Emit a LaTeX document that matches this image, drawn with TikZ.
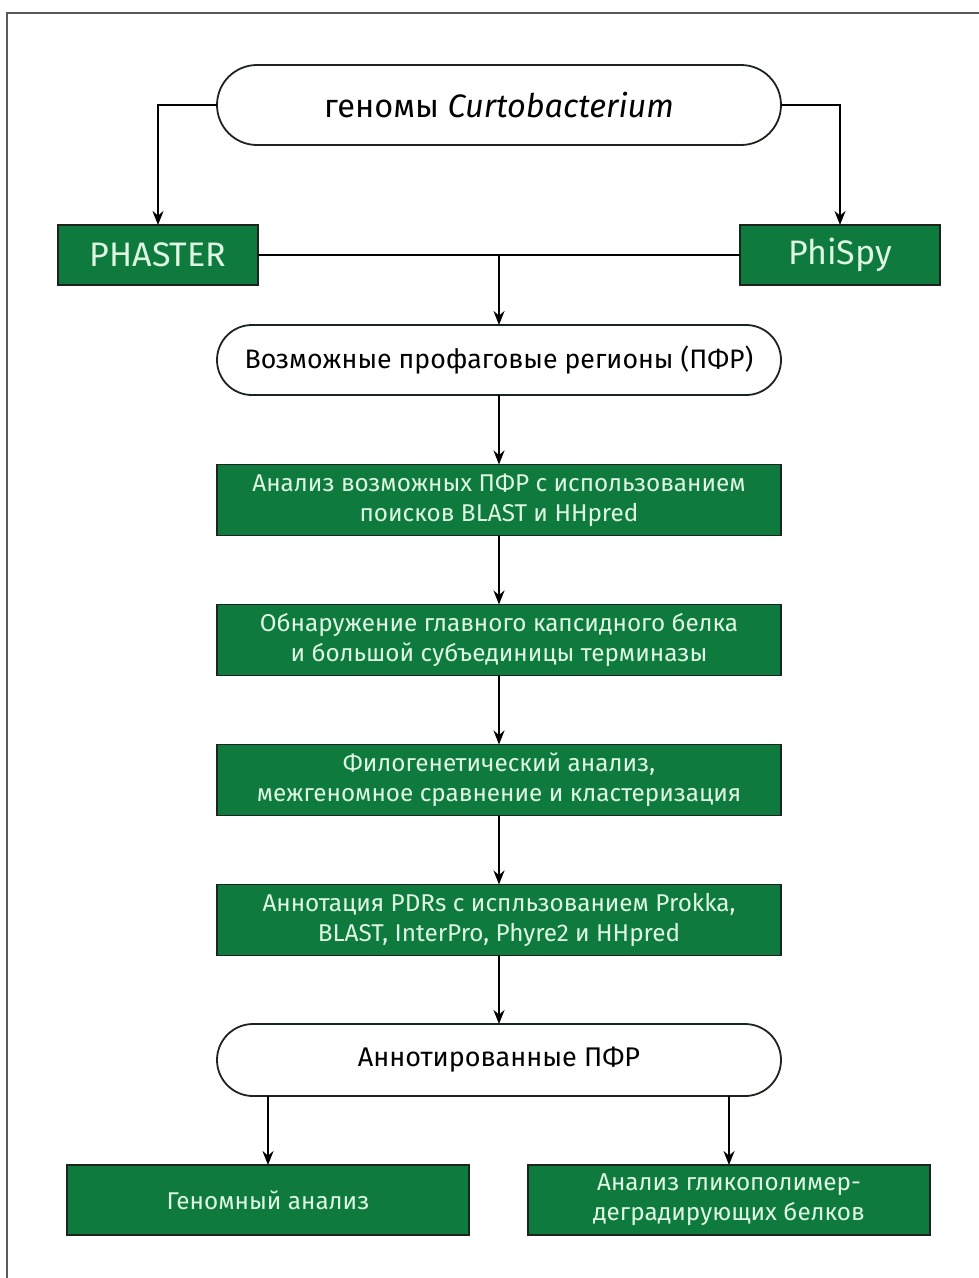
\documentclass[tikz,border=0pt]{standalone}
\usepackage{fontspec}
\setmainfont{Fira Sans}
\usetikzlibrary{arrows.meta}
\definecolor{boxgreen}{HTML}{0E7A3D}
\definecolor{boxtext}{HTML}{DDF7E2}
\definecolor{edge}{HTML}{1C241E}
\definecolor{framegray}{HTML}{5A5A5A}
\tikzset{
  every node/.style={inner sep=0pt, outer sep=0pt},
  term/.style={draw=edge, line width=1.8pt, fill=white, rounded corners=35pt,
    minimum width=564pt, minimum height=72pt, align=center, text=black},
  gbox/.style={draw=edge, line width=1.8pt, fill=boxgreen, text=boxtext,
    minimum height=71pt, align=center, font=\fontsize{24.3}{30}\selectfont},
  flow/.style={draw=black, line width=1.8pt, -{Stealth[length=14pt,width=11pt]}},
  plain/.style={draw=black, line width=1.8pt}
}
\begin{document}
\begin{tikzpicture}[x=1pt,y=-1pt]
  % page extent
  \useasboundingbox (0,0) rectangle (979,1278);
  \draw[framegray, line width=1.4pt] (7,13) rectangle (995,1295);

  % start and tool boxes
  \node[term, minimum height=80pt, rounded corners=40pt,
        font=\fontsize{32.5}{36}\selectfont] (t1) at (499,105)
        {геномы \textit{Curtobacterium}};
  \node[gbox, minimum width=200pt, minimum height=60pt,
        font=\fontsize{34}{38}\selectfont] (phaster) at (158,255) {PHASTER};
  \node[gbox, minimum width=200pt, minimum height=60pt,
        font=\fontsize{34}{38}\selectfont] (phispy) at (840,255) {PhiSpy};

  % main pipeline
  \node[term, minimum height=70pt, font=\fontsize{26.7}{30}\selectfont] (t2) at (499,360)
        {Возможные профаговые регионы (ПФР)};
  \node[gbox, minimum width=564pt] (b1) at (499,500)
        {Анализ возможных ПФР с использованием\\поисков BLAST и HHpred};
  \node[gbox, minimum width=564pt] (b2) at (499,640)
        {Обнаружение главного капсидного белка\\и большой субъединицы терминазы};
  \node[gbox, minimum width=564pt] (b3) at (499,780)
        {Филогенетический анализ,\\межгеномное сравнение и кластеризация};
  \node[gbox, minimum width=564pt] (b4) at (499,920)
        {Аннотация PDRs с испльзованием Prokka,\\BLAST, InterPro, Phyre2 и HHpred};
  \node[term, minimum height=72pt, rounded corners=36pt,
        font=\fontsize{27}{30}\selectfont] (t3) at (499,1060)
        {Аннотированные ПФР};

  % outputs
  \node[gbox, minimum width=402pt, minimum height=70pt] (g1) at (268,1200)
        {Геномный анализ};
  \node[gbox, minimum width=402pt, minimum height=70pt] (g2) at (729,1200)
        {Анализ гликополимер-\\деградирующих белков};

  % connectors
  \draw[flow] (t1.west) -| (phaster.north);
  \draw[flow] (t1.east) -| (phispy.north);
  \draw[plain] (phaster.east) -- (phispy.west);
  \coordinate (join) at (t2.north |- phaster.east);
  \draw[flow] (join) -- (t2.north);
  \draw[flow] (t2.south) -- (b1.north);
  \draw[flow] (b1.south) -- (b2.north);
  \draw[flow] (b2.south) -- (b3.north);
  \draw[flow] (b3.south) -- (b4.north);
  \draw[flow] (b4.south) -- (t3.north);
  \draw[flow] (g1.north |- t3.south) -- (g1.north);
  \draw[flow] (g2.north |- t3.south) -- (g2.north);
\end{tikzpicture}
\end{document}
